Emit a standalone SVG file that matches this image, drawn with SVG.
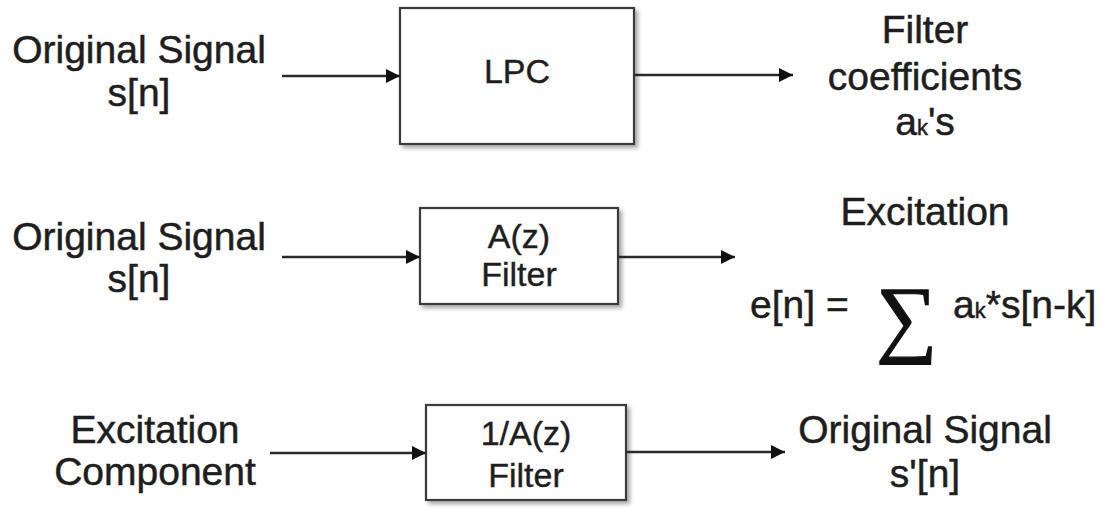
<svg xmlns="http://www.w3.org/2000/svg" width="1111" height="522" viewBox="0 0 1111 522">
<style>
.t{font-family:"Liberation Sans",Arial,Helvetica,sans-serif;fill:#1e1e1e;stroke:#1e1e1e;stroke-width:0.5;font-size:39px}
.b{font-family:"Liberation Sans",Arial,Helvetica,sans-serif;fill:#1e1e1e;stroke:#1e1e1e;stroke-width:0.4;font-size:34px}
.box{fill:#fefefe;stroke:#3a3a3a;stroke-width:2.2}
.c{stroke:#2a2a2a;stroke-width:2.6;fill:none}
.sub{font-size:22px}
.sig{font-family:"Liberation Serif","DejaVu Serif",serif;fill:#111;stroke:#111;stroke-width:1.2;font-size:86px}
</style>
<defs>
<marker id="ah" viewBox="0 0 10 10" refX="10" refY="5" markerWidth="5.5" markerHeight="5.5" markerUnits="strokeWidth" orient="auto">
<path d="M0,0 L10,5 L0,10 z" fill="#111"/>
</marker>
<filter id="sh" x="-10%" y="-10%" width="130%" height="130%">
<feDropShadow dx="3" dy="3" stdDeviation="2" flood-color="#000" flood-opacity="0.35"/>
</filter>
</defs>
<rect width="1111" height="522" fill="#ffffff"/>

<g id="in1">
<text class="t" x="139" y="63" text-anchor="middle">Original Signal</text>
<text class="t" x="139" y="106" text-anchor="middle">s[n]</text>
</g>
<g id="lpc">
<rect class="box" x="400" y="8" width="234" height="136" filter="url(#sh)"/>
<text class="b" x="517" y="83" text-anchor="middle">LPC</text>
</g>
<g id="out1">
<text class="t" x="925" y="43" text-anchor="middle">Filter</text>
<text class="t" x="925" y="90" text-anchor="middle">coefficients</text>
<text class="t" x="925" y="135" text-anchor="middle">a<tspan class="sub">k</tspan>'s</text>
</g>

<g id="in2">
<text class="t" x="139" y="250" text-anchor="middle">Original Signal</text>
<text class="t" x="139" y="292" text-anchor="middle">s[n]</text>
</g>
<g id="afilter">
<rect class="box" x="420" y="208" width="198" height="96" filter="url(#sh)"/>
<text class="b" x="519" y="248" text-anchor="middle">A(z)</text>
<text class="b" x="519" y="286" text-anchor="middle">Filter</text>
</g>
<g id="out2">
<text class="t" x="925" y="225" text-anchor="middle">Excitation</text>
<text class="t" x="750" y="318">e[n] =</text>
<text class="sig" x="876" y="346">∑</text>
<text class="t" x="953" y="318">a<tspan class="sub">k</tspan>*s[n-k]</text>
</g>

<g id="in3">
<text class="t" x="155" y="443" text-anchor="middle">Excitation</text>
<text class="t" x="155" y="485" text-anchor="middle">Component</text>
</g>
<g id="invfilter">
<rect class="box" x="426" y="405" width="200" height="95" filter="url(#sh)"/>
<text class="b" x="526" y="445" text-anchor="middle">1/A(z)</text>
<text class="b" x="526" y="487" text-anchor="middle">Filter</text>
</g>
<g id="out3">
<text class="t" x="925" y="443" text-anchor="middle">Original Signal</text>
<text class="t" x="925" y="487" text-anchor="middle">s'[n]</text>
</g>

<g id="connectors">
<line class="c" x1="282" y1="76" x2="400" y2="76" marker-end="url(#ah)"/>
<line class="c" x1="634" y1="75" x2="793" y2="75" marker-end="url(#ah)"/>
<line class="c" x1="282" y1="257" x2="420" y2="257" marker-end="url(#ah)"/>
<line class="c" x1="618" y1="257" x2="735" y2="257" marker-end="url(#ah)"/>
<line class="c" x1="270" y1="453" x2="426" y2="453" marker-end="url(#ah)"/>
<line class="c" x1="626" y1="452" x2="785" y2="452" marker-end="url(#ah)"/>
</g>
</svg>
